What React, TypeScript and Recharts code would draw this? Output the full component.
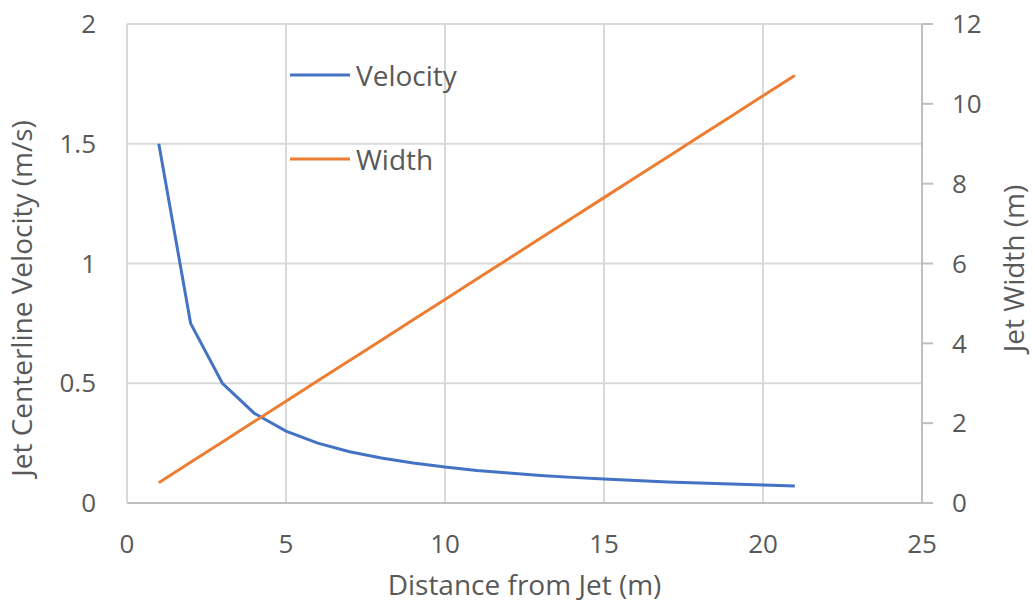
import React from "react";
import {
  LineChart,
  Line,
  XAxis,
  YAxis,
  CartesianGrid,
  Legend,
} from "recharts";

const distance = [1, 2, 3, 4, 5, 6, 7, 8, 9, 10, 11, 12, 13, 14, 15, 16, 17, 18, 19, 20, 21];
const velocity = [
  1.5, 0.75, 0.5, 0.375, 0.3, 0.25, 0.214, 0.1875, 0.167, 0.15, 0.136, 0.125, 0.115,
  0.107, 0.1, 0.094, 0.088, 0.083, 0.079, 0.075, 0.071,
];
const width = [
  0.51, 1.02, 1.53, 2.04, 2.55, 3.06, 3.57, 4.08, 4.59, 5.1, 5.61, 6.12, 6.63, 7.14,
  7.65, 8.16, 8.67, 9.18, 9.69, 10.2, 10.71,
];
const xTicks = [0, 5, 10, 15, 20, 25];
const leftTicks = [0, 0.5, 1, 1.5, 2];
const rightTicks = [0, 2, 4, 6, 8, 10, 12];

const BLUE = "#4472C4";
const ORANGE = "#ED7D31";
const TEXT = "#595959";
const GRID = "#d9d9d9";
const AXIS = "#bfbfbf";
const FONT = "'Open Sans', sans-serif";
const TICK_FONT = 26;
const TITLE_FONT = 28;

const data = distance.map((x, i) => ({ x, velocity: velocity[i], width: width[i] }));

const legendItems = [
  { name: "Velocity", color: BLUE },
  { name: "Width", color: ORANGE },
];

const renderLegend = () => (
  <div style={{ fontFamily: FONT, fontSize: TITLE_FONT, color: TEXT, lineHeight: 1 }}>
    {legendItems.map((item, i) => (
      <div
        key={item.name}
        style={{ display: "flex", alignItems: "center", height: 36, marginTop: i ? 48 : 0 }}
      >
        <svg width={62} height={6} style={{ marginRight: 5 }}>
          <line x1={1} y1={3} x2={61} y2={3} stroke={item.color} strokeWidth={3} />
        </svg>
        <span>{item.name}</span>
      </div>
    ))}
  </div>
);

// vertical axis title, placed relative to the axis box
const AxisTitle = ({ viewBox, value, dx, dy }: any) => {
  if (!viewBox) return null;
  const cx = viewBox.x + dx;
  const cy = viewBox.y + viewBox.height / 2 + dy;
  return (
    <text
      x={cx}
      y={cy}
      dy="0.36em"
      transform={`rotate(-90 ${cx} ${cy})`}
      textAnchor="middle"
      fill={TEXT}
      fontSize={TITLE_FONT}
      fontFamily={FONT}
    >
      {value}
    </text>
  );
};

const App: React.FC = () => {
  return (
    <div style={{ position: "absolute", left: 0, top: 0, width: 1034, height: 612, background: "#fff" }}>
      <LineChart
        width={1034}
        height={612}
        data={data}
        margin={{ top: 24, right: 0, left: 0, bottom: 0 }}
      >
        <CartesianGrid yAxisId="left" stroke={GRID} strokeWidth={2} />
        <XAxis
          dataKey="x"
          type="number"
          domain={[0, 25]}
          ticks={xTicks}
          height={109}
          tickSize={0}
          tickMargin={32}
          axisLine={{ stroke: AXIS, strokeWidth: 2 }}
          tick={{ fill: TEXT, fontSize: TICK_FONT, fontFamily: FONT }}
          label={{
            value: "Distance from Jet (m)",
            position: "insideBottom",
            offset: 17,
            fill: TEXT,
            fontSize: TITLE_FONT,
            fontFamily: FONT,
          }}
        />
        <YAxis
          yAxisId="left"
          domain={[0, 2]}
          ticks={leftTicks}
          width={127}
          tickSize={0}
          tickMargin={31}
          axisLine={{ stroke: GRID, strokeWidth: 2 }}
          tick={{ fill: TEXT, fontSize: TICK_FONT, fontFamily: FONT }}
          label={<AxisTitle value="Jet Centerline Velocity (m/s)" dx={22} dy={35} />}
        />
        <YAxis
          yAxisId="right"
          orientation="right"
          domain={[0, 12]}
          ticks={rightTicks}
          width={112}
          tickSize={11}
          tickMargin={19}
          tickLine={{ stroke: AXIS, strokeWidth: 2 }}
          axisLine={{ stroke: AXIS, strokeWidth: 2 }}
          tick={{ fill: TEXT, fontSize: TICK_FONT, fontFamily: FONT }}
          label={<AxisTitle value="Jet Width (m)" dx={92} dy={5} />}
        />
        <Legend
          layout="vertical"
          align="center"
          verticalAlign="middle"
          content={renderLegend}
          wrapperStyle={{ left: 289, top: 57, width: 220 }}
        />
        <Line
          yAxisId="left"
          dataKey="velocity"
          name="Velocity"
          stroke={BLUE}
          strokeWidth={3}
          dot={false}
          isAnimationActive={false}
        />
        <Line
          yAxisId="right"
          dataKey="width"
          name="Width"
          stroke={ORANGE}
          strokeWidth={3}
          dot={false}
          isAnimationActive={false}
        />
      </LineChart>
    </div>
  );
};

export default App;
